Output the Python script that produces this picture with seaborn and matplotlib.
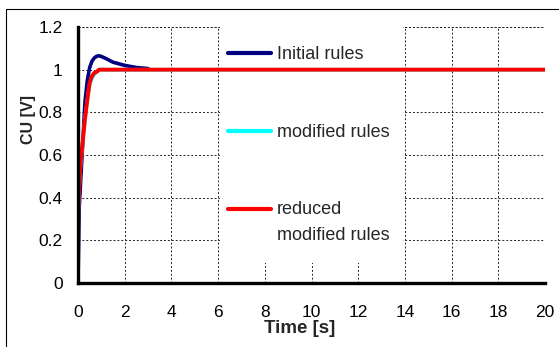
import numpy as np
import pandas as pd
import matplotlib
matplotlib.use("Agg")
import matplotlib.pyplot as plt
from matplotlib.lines import Line2D
from matplotlib.patches import Rectangle
import seaborn as sns

# step responses
t_initial = [0, 0.05, 0.1, 0.2, 0.3, 0.4, 0.5, 0.6, 0.7, 0.8, 0.9, 1.0, 1.2, 1.5, 2.0, 2.5, 3.0]
cu_initial = [0, 0.35, 0.45, 0.65, 0.85, 0.95, 1.01, 1.04, 1.055, 1.063, 1.065, 1.062, 1.052, 1.035, 1.02, 1.01, 1.005]

t_modified = [0, 0.01, 0.05, 0.1, 0.2, 0.3, 0.4, 0.5, 0.6, 0.7, 0.8, 0.9, 1.0, 20]
cu_modified = [0, 0.32, 0.44, 0.54, 0.66, 0.77, 0.86, 0.93, 0.96, 0.98, 0.99, 1.0, 1.0, 1.0]

t_reduced = [0, 0.01, 0.05, 0.1, 0.2, 0.3, 0.4, 0.5, 0.6, 0.7, 0.8, 0.9, 1.0, 20]
cu_reduced = [0, 0.33, 0.45, 0.55, 0.66, 0.77, 0.86, 0.94, 0.97, 0.985, 0.99, 1.0, 1.0, 1.0]

labels = ["Initial rules", "modified rules", "reduced\nmodified rules"]
colors = ["#000080", "#00ffff", "#ff0000"]

x_ticks = list(range(0, 21, 2))
y_ticks = [0, 0.2, 0.4, 0.6, 0.8, 1, 1.2]
y_ticklabels = ["0", "0.2", "0.4", "0.6", "0.8", "1", "1.2"]

sns.set_style("white")
plt.rcParams["font.family"] = ["Liberation Sans", "DejaVu Sans"]

fig = plt.figure(figsize=(5.59, 3.47), dpi=100)
ax = fig.add_axes([78 / 559, 1 - 283 / 347, (545 - 78) / 559, (283 - 27) / 347])

series = [(t_initial, cu_initial), (t_modified, cu_modified), (t_reduced, cu_reduced)]
for (t, cu), lab, col, lw in zip(series, labels, colors, [2.6, 2.6, 2.8]):
    df = pd.DataFrame({"t": t, "cu": cu})
    sns.lineplot(data=df, x="t", y="cu", ax=ax, color=col, lw=lw,
                 estimator=None, sort=False, label=lab, legend=False, zorder=3)

ax.set_xlim(0, 20)
ax.set_ylim(0, 1.2)
ax.set_xticks(x_ticks)
ax.set_xticklabels([str(v) for v in x_ticks])
ax.set_yticks(y_ticks)
ax.set_yticklabels(y_ticklabels)
ax.tick_params(axis="both", direction="out", length=4, width=2, color="black",
               labelsize=12.5, labelcolor="black")
ax.tick_params(axis="y", pad=7)
ax.tick_params(axis="x", pad=12)

for side in ["top", "right"]:
    ax.spines[side].set_visible(False)
for side in ["left", "bottom"]:
    ax.spines[side].set_linewidth(2.4)
    ax.spines[side].set_color("black")
    ax.spines[side].set_zorder(4)

# short dashed grid, including the top and right edges
dash = (0, (2, 2))
ax.grid(True, linestyle=dash, color="#222222", linewidth=0.7)
ax.set_axisbelow(True)
ax.axhline(1.2, color="#222222", linestyle=dash, linewidth=0.7, zorder=0.5)
ax.axvline(20, color="#222222", linestyle=dash, linewidth=0.7, zorder=0.5)

# white area behind the legend, between the 6 and 14 grid lines
ax.add_patch(Rectangle((6.06, 0.094), 7.88, 1.2, facecolor="white",
                       edgecolor="none", zorder=1))

ax.set_xlabel("Time [s]", fontsize=13.5, fontweight="bold")
ax.set_ylabel("CU [V]", fontsize=11.5, fontweight="bold")
ax.xaxis.set_label_coords(0.475, -0.145)
ax.yaxis.set_label_coords(-0.09, 0.637)

handles = [Line2D([], [], color=c, lw=3) for c in colors]
leg = ax.legend(handles, labels, loc="upper left", bbox_to_anchor=(0.321, 0.924),
                frameon=False, fontsize=13, handlelength=2.4, handletextpad=0.3,
                labelspacing=3.35, borderpad=0, borderaxespad=0)
leg.get_texts()[2].set_linespacing(1.65)
# put the red handle level with the first line of its two-line label
red_handle = leg.legend_handles[2]
red_handle.set_ydata(np.asarray(red_handle.get_ydata()) + 10)

# thin frame round the picture (only left and top visible)
fig.add_artist(Line2D([6 / 559, 6 / 559], [0, 1 - 9 / 347], color="black", lw=0.8,
                      transform=fig.transFigure))
fig.add_artist(Line2D([6 / 559, 1], [1 - 9 / 347, 1 - 9 / 347], color="black", lw=0.8,
                      transform=fig.transFigure))

fig.savefig("out.png", dpi=100)
